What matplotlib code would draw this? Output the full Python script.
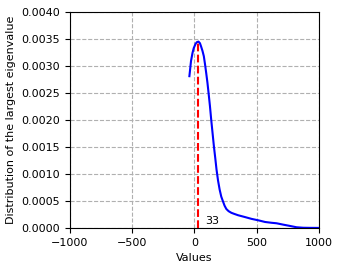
import matplotlib
matplotlib.use('Agg')
import matplotlib.pyplot as plt

# density curve of the largest eigenvalue
values = [-40, -27, -15, -5, 10, 20, 33, 45, 54, 65, 76, 85, 95, 105, 114, 125, 135,
          146, 157, 168, 178, 190, 203, 216, 230, 243, 257, 275, 297, 320, 351, 400,
          460, 515, 568, 620, 660, 715, 767, 821, 874, 930, 995]
density = [0.00281, 0.00309, 0.00324, 0.00333, 0.00341, 0.00344, 0.00345, 0.00342,
           0.00336, 0.00328, 0.00318, 0.00304, 0.00287, 0.00269, 0.00250, 0.00226,
           0.00201, 0.00176, 0.00151, 0.00129, 0.00108, 0.00088, 0.00071, 0.00058,
           0.00049, 0.00041, 0.00035, 0.00031, 0.00028, 0.00026, 0.000235, 0.000205,
           0.000167, 0.00014, 0.00011, 0.000095, 0.000086, 0.00006, 0.000037, 0.000012,
           0.000003, 0.000001, 0.0]
peak_x = 33
peak_y = 0.00345

fig = plt.figure(figsize=(3.41, 2.71), dpi=100)
ax = fig.add_axes([0.205, 0.159, 0.73, 0.797])

ax.plot(values, density, color='blue', linewidth=1.5)
ax.plot([peak_x, peak_x], [0, peak_y], color='red', linestyle='--', linewidth=1.5)
ax.text(peak_x + 50, 0.00003, str(peak_x), fontsize=8, va='bottom')

ax.set_xlim(-1000, 1000)
ax.set_ylim(0, 0.004)
ax.set_xticks([-1000, -500, 0, 500, 1000])
ax.set_yticks([0.0, 0.0005, 0.001, 0.0015, 0.002, 0.0025, 0.003, 0.0035, 0.004])
ax.set_yticklabels(['{:.4f}'.format(v) for v in ax.get_yticks()])
ax.grid(True, linestyle='--', color='#b0b0b0', linewidth=0.8)
ax.set_xlabel('Values', fontsize=8)
ax.set_ylabel('Distribution of the largest eigenvalue', fontsize=8)
ax.tick_params(labelsize=8)

fig.savefig('out.png', dpi=100)
